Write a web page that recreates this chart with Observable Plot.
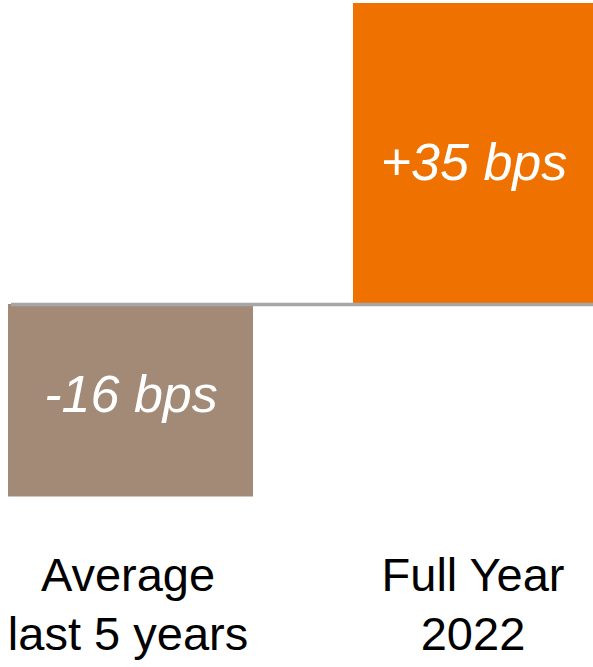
<!DOCTYPE html>
<html>
<head>
<meta charset="utf-8">
<script src="https://cdn.jsdelivr.net/npm/d3@7"></script>
<script src="https://cdn.jsdelivr.net/npm/@observablehq/plot@0.6"></script>
<style>
  html, body { margin: 0; padding: 0; background: #fff; overflow: hidden; }
  #chart svg { overflow: hidden; display: block; }
</style>
</head>
<body>
<div id="chart"></div>
<script>
const categories = ["Average last 5 years", "Full Year 2022"];
const values = [-16, 35];
const valueLabels = ["-16 bps", "+35 bps"];
const tickLabels = ["Average\nlast 5 years", "Full Year\n2022"];
const colors = ["#a38a76", "#ef7100"];

const data = categories.map((c, i) => ({cat: c, value: values[i], label: valueLabels[i], color: colors[i]}));

// the reference draws the negative side with a larger pixels-per-bp ratio
const negStretch = (192.5 / 16) / (301 / 35);

const chart = Plot.plot({
  width: 593,
  height: 667,
  marginLeft: 11,
  marginRight: 0,
  marginTop: 0,
  marginBottom: 119,
  style: {fontFamily: "'Liberation Sans', Arial, sans-serif", background: "#fff"},
  x: {domain: categories, range: [8, 598], paddingInner: 0.29, paddingOuter: 0, axis: null},
  y: {
    transform: v => v < 0 ? v * negStretch : v,
    domain: [-16 * negStretch, 35], range: [496.5, 3], axis: null
  },
  color: {type: "identity"},
  marks: [
    Plot.barY(data, {x: "cat", y: "value", fill: "color"}),
    Plot.ruleY([0], {stroke: "#a6a6a6", strokeWidth: 3.6}),
    Plot.text(data.filter(d => d.value > 0), {
      x: "cat", y: d => d.value / 2, text: "label", fill: "white",
      fontSize: 52, fontStyle: "italic", dy: 9.5, dx: -2
    }),
    Plot.text(data.filter(d => d.value < 0), {
      x: "cat", y: d => d.value / 2, text: "label", fill: "white",
      fontSize: 52, fontStyle: "italic", dy: -5.5
    }),
    Plot.axisX({
      label: null, tickSize: 0, tickPadding: 0, fontSize: 47, lineHeight: 1.26,
      lineAnchor: "top", fill: "#000", dx: -3,
      tickFormat: d => tickLabels[categories.indexOf(d)]
    })
  ]
});
document.getElementById("chart").appendChild(chart);
</script>
</body>
</html>
